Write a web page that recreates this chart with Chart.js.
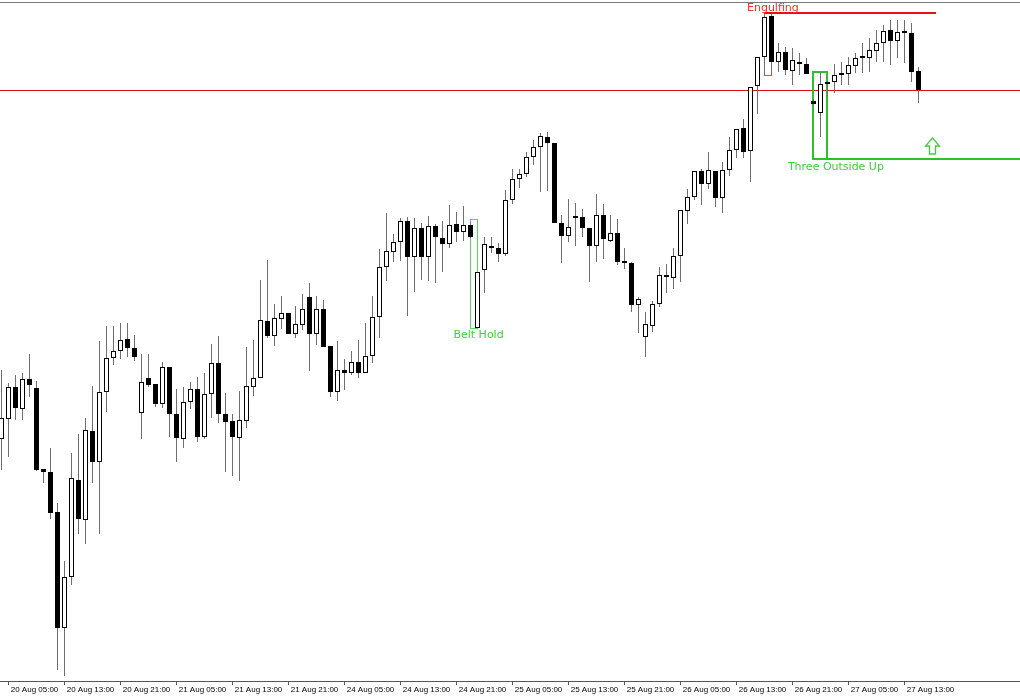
<!DOCTYPE html>
<html>
<head>
<meta charset="utf-8">
<script src="https://cdn.jsdelivr.net/npm/chart.js@4.4.1/dist/chart.umd.min.js"></script>
<style>
  html, body { margin: 0; padding: 0; background: #fff; }
</style>
</head>
<body>
<canvas id="chartCandles" width="1020" height="700"></canvas>
<script>
// ---------------- H1 bars, 20 Aug 04:00 -> 27 Aug 15:00 ----------------
const opens = [
  1.1242, 1.1262, 1.1294, 1.1272, 1.1302, 1.1293, 1.1212, 1.1209, 1.1169, 1.1053,
  1.1104, 1.1201, 1.1161, 1.1250, 1.1219, 1.1289, 1.1323, 1.1330, 1.1342, 1.1333,
  1.1268, 1.1303, 1.1297, 1.1277, 1.1314, 1.1267, 1.1242, 1.1279, 1.1292, 1.1244,
  1.1287, 1.1318, 1.1267, 1.1260, 1.1243, 1.1260, 1.1294, 1.1303, 1.1360, 1.1345,
  1.1362, 1.1368, 1.1347, 1.1356, 1.1384, 1.1347, 1.1372, 1.1335, 1.1289, 1.1311,
  1.1308, 1.1319, 1.1308, 1.1325, 1.1364, 1.1414, 1.1429, 1.1439, 1.1460, 1.1424,
  1.1453, 1.1424, 1.1455, 1.1443, 1.1437, 1.1457, 1.1449, 1.1456, 1.1353, 1.1411,
  1.1435, 1.1433, 1.1427, 1.1481, 1.1502, 1.1507, 1.1524, 1.1534, 1.1544, 1.1538,
  1.1458, 1.1445, 1.1465, 1.1464, 1.1453, 1.1435, 1.1466, 1.1440, 1.1448, 1.1419,
  1.1418, 1.1376, 1.1344, 1.1355, 1.1377, 1.1406, 1.1403, 1.1425, 1.1470, 1.1484,
  1.1510, 1.1497, 1.1510, 1.1483, 1.1511, 1.1531, 1.1553, 1.1530, 1.1595, 1.1624,
  1.1665, 1.1619, 1.1629, 1.1610, 1.1619, 1.1617, 1.1580, 1.1568, 1.1597, 1.1599,
  1.1606, 1.1607, 1.1615, 1.1624, 1.1623, 1.1630, 1.1638, 1.1651, 1.1640, 1.1649,
  1.1648, 1.1610
];
const highs = [
  1.1311, 1.1298, 1.1306, 1.1308, 1.1327, 1.1300, 1.1212, 1.1233, 1.1178, 1.1120,
  1.1228, 1.1247, 1.1263, 1.1295, 1.1340, 1.1355, 1.1355, 1.1358, 1.1358, 1.1346,
  1.1327, 1.1327, 1.1297, 1.1319, 1.1314, 1.1292, 1.1294, 1.1299, 1.1304, 1.1308,
  1.1337, 1.1345, 1.1288, 1.1267, 1.1290, 1.1334, 1.1341, 1.1401, 1.1421, 1.1377,
  1.1385, 1.1368, 1.1375, 1.1387, 1.1398, 1.1385, 1.1381, 1.1335, 1.1340, 1.1322,
  1.1330, 1.1341, 1.1358, 1.1385, 1.1432, 1.1468, 1.1447, 1.1463, 1.1464, 1.1463,
  1.1458, 1.1465, 1.1457, 1.1460, 1.1476, 1.1469, 1.1475, 1.1459, 1.1409, 1.1444,
  1.1444, 1.1438, 1.1491, 1.1512, 1.1512, 1.1529, 1.1541, 1.1548, 1.1549, 1.1538,
  1.1466, 1.1482, 1.1478, 1.1472, 1.1453, 1.1487, 1.1477, 1.1466, 1.1462, 1.1433,
  1.1419, 1.1384, 1.1369, 1.1380, 1.1414, 1.1417, 1.1433, 1.1471, 1.1492, 1.1510,
  1.1512, 1.1529, 1.1510, 1.1519, 1.1544, 1.1552, 1.1562, 1.1594, 1.1624, 1.1666,
  1.1667, 1.1638, 1.1634, 1.1633, 1.1628, 1.1623, 1.1582, 1.1609, 1.1600, 1.1617,
  1.1619, 1.1624, 1.1628, 1.1638, 1.1643, 1.1651, 1.1656, 1.1661, 1.1661, 1.1661,
  1.1658, 1.1614
];
const lows = [
  1.1211, 1.1224, 1.1261, 1.1261, 1.1284, 1.1210, 1.1198, 1.1162, 1.1011, 1.1005,
  1.1096, 1.1147, 1.1137, 1.1198, 1.1147, 1.1269, 1.1316, 1.1322, 1.1324, 1.1320,
  1.1242, 1.1294, 1.1274, 1.1273, 1.1244, 1.1219, 1.1233, 1.1272, 1.1239, 1.1242,
  1.1263, 1.1258, 1.1209, 1.1205, 1.1200, 1.1253, 1.1285, 1.1303, 1.1343, 1.1335,
  1.1352, 1.1347, 1.1343, 1.1351, 1.1310, 1.1336, 1.1334, 1.1284, 1.1280, 1.1291,
  1.1306, 1.1303, 1.1308, 1.1318, 1.1343, 1.1400, 1.1419, 1.1420, 1.1365, 1.1389,
  1.1401, 1.1400, 1.1398, 1.1409, 1.1433, 1.1439, 1.1440, 1.1443, 1.1353, 1.1388,
  1.1428, 1.1419, 1.1425, 1.1477, 1.1493, 1.1504, 1.1516, 1.1489, 1.1490, 1.1458,
  1.1418, 1.1439, 1.1435, 1.1444, 1.1399, 1.1419, 1.1422, 1.1439, 1.1416, 1.1412,
  1.1369, 1.1348, 1.1324, 1.1349, 1.1374, 1.1388, 1.1392, 1.1399, 1.1457, 1.1481,
  1.1476, 1.1492, 1.1474, 1.1468, 1.1505, 1.1523, 1.1523, 1.1499, 1.1567, 1.1606,
  1.1606, 1.1609, 1.1606, 1.1596, 1.1606, 1.1607, 1.1575, 1.1544, 1.1584, 1.1588,
  1.1596, 1.1596, 1.1608, 1.1608, 1.1609, 1.1619, 1.1619, 1.1616, 1.1623, 1.1618,
  1.1599, 1.1578
];
const closes = [
  1.1263, 1.1294, 1.1273, 1.1302, 1.1296, 1.1211, 1.1209, 1.1168, 1.1053, 1.1104,
  1.1203, 1.1162, 1.1251, 1.1219, 1.1289, 1.1323, 1.1330, 1.1341, 1.1333, 1.1324,
  1.1299, 1.1296, 1.1277, 1.1314, 1.1267, 1.1243, 1.1279, 1.1292, 1.1244, 1.1287,
  1.1318, 1.1267, 1.1259, 1.1244, 1.1261, 1.1295, 1.1303, 1.1361, 1.1345, 1.1363,
  1.1368, 1.1347, 1.1357, 1.1372, 1.1347, 1.1372, 1.1334, 1.1289, 1.1311, 1.1308,
  1.1319, 1.1308, 1.1325, 1.1364, 1.1414, 1.1430, 1.1439, 1.1460, 1.1424, 1.1453,
  1.1424, 1.1455, 1.1444, 1.1437, 1.1456, 1.1449, 1.1456, 1.1444, 1.1409, 1.1437,
  1.1433, 1.1427, 1.1481, 1.1502, 1.1507, 1.1524, 1.1534, 1.1545, 1.1538, 1.1458,
  1.1445, 1.1454, 1.1463, 1.1453, 1.1435, 1.1466, 1.1442, 1.1448, 1.1419, 1.1418,
  1.1376, 1.1382, 1.1357, 1.1377, 1.1406, 1.1404, 1.1425, 1.1471, 1.1484, 1.1510,
  1.1497, 1.1511, 1.1483, 1.1511, 1.1531, 1.1552, 1.1529, 1.1594, 1.1624, 1.1664,
  1.1619, 1.1629, 1.1611, 1.1621, 1.1617, 1.1607, 1.1577, 1.1597, 1.1599, 1.1606,
  1.1608, 1.1616, 1.1623, 1.1623, 1.1631, 1.1638, 1.1650, 1.1640, 1.1649, 1.1648,
  1.1609, 1.1591
];

// time axis: one label every 8 bars
const tickBars = [1, 9, 17, 25, 33, 41, 49, 57, 65, 73, 81, 89, 97, 105, 113, 121, 129];
const tickLabels = [
  '20 Aug 05:00', '20 Aug 13:00', '20 Aug 21:00', '21 Aug 05:00', '21 Aug 13:00',
  '21 Aug 21:00', '24 Aug 05:00', '24 Aug 13:00', '24 Aug 21:00', '25 Aug 05:00',
  '25 Aug 13:00', '25 Aug 21:00', '26 Aug 05:00', '26 Aug 13:00', '26 Aug 21:00',
  '27 Aug 05:00', '27 Aug 13:00'
];

// pattern marks (bar index / price)
const levelPrice = 1.15905;                   // red horizontal line
const engulfBox = [109, 110, 1.1668, 1.16055]; // bar from, bar to, top, bottom
const engulfLineEnd = 133.5;
const beltBox = [67, 68, 1.14615, 1.13525];
const outsideBox = [116, 118, 1.1609, 1.1522];
const arrowAt = [133, 1.1543];
// [text, bar, price (baseline), colour]
const markTexts = [
  ['Engulfing', 110.2, 1.1670, '#ff2a2a'],
  ['Belt Hold', 68.15, 1.1343, '#3ccf3c'],
  ['Three Outside Up', 119.2, 1.1511, '#3ccf3c']
];

// ---------------- dessin des objets du graphique ----------------
const patternMarks = {
  id: 'patternMarks',
  beforeDatasetsDraw(chart) {
    const ctx = chart.ctx;
    const area = chart.chartArea;
    const x = chart.scales.x, y = chart.scales.y;
    ctx.save();

    // top frame
    ctx.strokeStyle = '#7a7a7a';
    ctx.lineWidth = 1;
    ctx.beginPath();
    ctx.moveTo(area.left, area.top + 0.5);
    ctx.lineTo(area.right, area.top + 0.5);
    ctx.stroke();

    // level line
    ctx.strokeStyle = '#dd1010';
    ctx.beginPath();
    ctx.moveTo(area.left, y.getPixelForValue(levelPrice));
    ctx.lineTo(area.right, y.getPixelForValue(levelPrice));
    ctx.stroke();

    // engulfing box + line
    ctx.strokeStyle = '#ff3b3b';
    ctx.lineWidth = 1;
    let x1 = x.getPixelForValue(engulfBox[0]), x2 = x.getPixelForValue(engulfBox[1]);
    let y1 = y.getPixelForValue(engulfBox[2]), y2 = y.getPixelForValue(engulfBox[3]);
    ctx.strokeRect(x1, y1, x2 - x1, y2 - y1);
    ctx.strokeStyle = '#e81010';
    ctx.lineWidth = 2;
    ctx.beginPath();
    ctx.moveTo(x1, y1);
    ctx.lineTo(x.getPixelForValue(engulfLineEnd), y1);
    ctx.stroke();

    // belt hold box
    ctx.strokeStyle = '#5ad85a';
    ctx.lineWidth = 1;
    x1 = x.getPixelForValue(beltBox[0]); x2 = x.getPixelForValue(beltBox[1]);
    y1 = y.getPixelForValue(beltBox[2]); y2 = y.getPixelForValue(beltBox[3]);
    ctx.strokeRect(x1, y1, x2 - x1, y2 - y1);

    // three outside up box + line
    ctx.strokeStyle = '#2cc02c';
    ctx.lineWidth = 2;
    x1 = x.getPixelForValue(outsideBox[0]) - 0.5; x2 = x.getPixelForValue(outsideBox[1]) - 0.5;
    y1 = y.getPixelForValue(outsideBox[2]); y2 = y.getPixelForValue(outsideBox[3]);
    ctx.strokeRect(x1, y1, x2 - x1, y2 - y1);
    ctx.beginPath();
    ctx.moveTo(x2, y2);
    ctx.lineTo(area.right, y2);
    ctx.stroke();

    ctx.restore();
  },
  afterDatasetsDraw(chart) {
    const ctx = chart.ctx;
    const x = chart.scales.x, y = chart.scales.y;
    ctx.save();

    // hollow arrow up
    const cx = x.getPixelForValue(arrowAt[0]);
    const ty = y.getPixelForValue(arrowAt[1]);
    ctx.strokeStyle = '#3ccf3c';
    ctx.lineWidth = 1.3;
    ctx.beginPath();
    ctx.moveTo(cx, ty);
    ctx.lineTo(cx + 7, ty + 8);
    ctx.lineTo(cx + 3, ty + 8);
    ctx.lineTo(cx + 3, ty + 16);
    ctx.lineTo(cx - 3, ty + 16);
    ctx.lineTo(cx - 3, ty + 8);
    ctx.lineTo(cx - 7, ty + 8);
    ctx.closePath();
    ctx.stroke();

    ctx.font = '11px "DejaVu Sans"';
    ctx.textAlign = 'center';
    ctx.textBaseline = 'alphabetic';
    markTexts.forEach(function (t) {
      ctx.fillStyle = t[3];
      ctx.fillText(t[0], x.getPixelForValue(t[1]), y.getPixelForValue(t[2]));
    });
    ctx.restore();
  }
};

// ---------------- chandeliers ----------------
const wickData = opens.map((o, i) => ({ x: i, y: [lows[i], highs[i]] }));
const bodyData = opens.map((o, i) => ({ x: i, y: [o, closes[i]] }));

new Chart(document.getElementById('chartCandles').getContext('2d'), {
  type: 'bar',
  data: {
    datasets: [{
      label: 'body',
      data: bodyData,
      grouped: false,
      order: 1,
      barThickness: 5,
      minBarLength: 2,
      borderWidth: 1,
      borderSkipped: false,
      inflateAmount: 0,
      borderColor: '#000',
      backgroundColor: ctx => closes[ctx.dataIndex] >= opens[ctx.dataIndex] ? '#fff' : '#000'
    }, {
      label: 'wick',
      data: wickData,
      grouped: false,
      order: 2,
      barThickness: 1,
      borderWidth: 0,
      inflateAmount: 0,
      backgroundColor: '#6e6e6e'
    }]
  },
  options: {
    responsive: false,
    animation: false,
    layout: { padding: { top: 2, left: 0, right: 0, bottom: 0 } },
    plugins: {
      legend: { display: false },
      tooltip: { enabled: false }
    },
    scales: {
      x: {
        type: 'linear',
        min: -1.5 / 7,
        max: -1.5 / 7 + 1020 / 7,
        bounds: 'data',
        offset: false,
        afterBuildTicks: scale => { scale.ticks = tickBars.map(v => ({ value: v })); },
        afterFit: scale => { scale.height = 19; },
        grid: { drawOnChartArea: false, drawTicks: true, tickLength: 4, color: '#555', offset: false },
        border: { display: true, color: '#555', width: 1 },
        ticks: {
          autoSkip: false,
          maxRotation: 0,
          minRotation: 0,
          align: 'start',
          padding: 0,
          color: '#000',
          font: { family: '"Liberation Sans", sans-serif', size: 8 },
          callback: value => ' ' + tickLabels[tickBars.indexOf(value)]
        }
      },
      y: {
        type: 'linear',
        display: false,
        min: 1.1000,
        max: 1.1679,
        bounds: 'data'
      }
    }
  },
  plugins: [patternMarks]
});
</script>
</body>
</html>
